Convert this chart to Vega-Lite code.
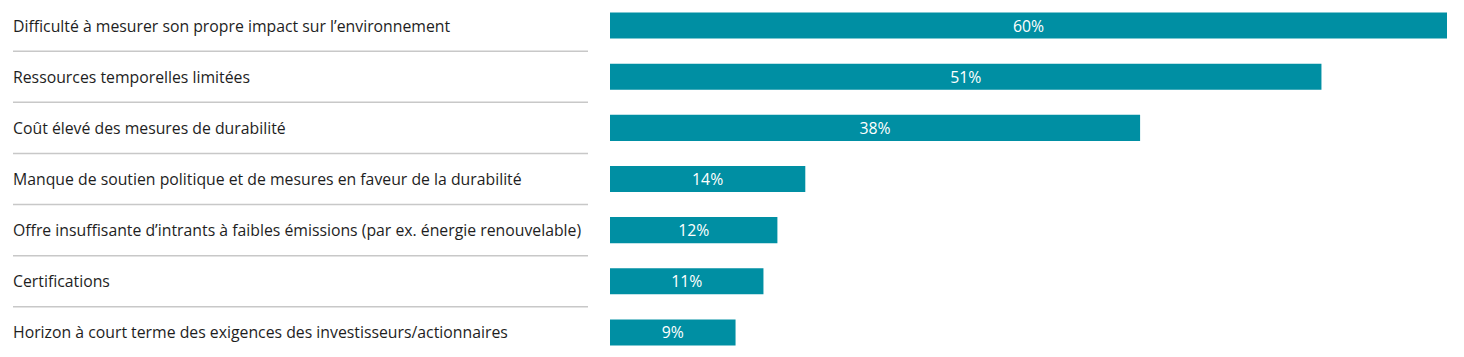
{
  "$schema": "https://vega.github.io/schema/vega-lite/v6.json",
  "padding": {"left": 12, "top": 0, "right": 0, "bottom": 0},
  "bounds": "flush",
  "config": {"view": {"stroke": null}, "font": "Open Sans", "concat": {"spacing": 22}},
  "data": {"values": [
    {"cause": "Difficulté à mesurer son propre impact sur l’environnement", "value": 0.60, "rank": 1},
    {"cause": "Ressources temporelles limitées", "value": 0.51, "rank": 2},
    {"cause": "Coût élevé des mesures de durabilité", "value": 0.38, "rank": 3},
    {"cause": "Manque de soutien politique et de mesures en faveur de la durabilité", "value": 0.14, "rank": 4},
    {"cause": "Offre insuffisante d’intrants à faibles émissions (par ex. énergie renouvelable)", "value": 0.12, "rank": 5},
    {"cause": "Certifications", "value": 0.11, "rank": 6},
    {"cause": "Horizon à court terme des exigences des investisseurs/actionnaires", "value": 0.09, "rank": 7}
  ]},
  "resolve": {"scale": {"x": "independent", "y": "independent"}},
  "hconcat": [
    {
      "width": 575,
      "height": 358,
      "layer": [
        {
          "transform": [{"filter": "datum.rank < 7"}],
          "mark": {"type": "rule", "color": "#c8c8c8", "strokeWidth": 1.5},
          "encoding": {
            "y": {"field": "cause", "type": "nominal", "sort": {"field": "rank"}, "bandPosition": 1, "axis": null,
                  "scale": {"domain": ["Difficulté à mesurer son propre impact sur l’environnement", "Ressources temporelles limitées", "Coût élevé des mesures de durabilité", "Manque de soutien politique et de mesures en faveur de la durabilité", "Offre insuffisante d’intrants à faibles émissions (par ex. énergie renouvelable)", "Certifications", "Horizon à court terme des exigences des investisseurs/actionnaires"], "paddingInner": 0, "paddingOuter": 0}},
            "x": {"datum": 0, "type": "quantitative", "scale": {"domain": [0, 1]}, "axis": null},
            "x2": {"datum": 1}
          }
        },
        {
          "mark": {"type": "text", "align": "left", "baseline": "middle", "fontSize": 15.8, "color": "#1e1e1e", "dy": 1},
          "encoding": {
            "y": {"field": "cause", "type": "nominal", "sort": {"field": "rank"}, "axis": null},
            "x": {"datum": 0, "type": "quantitative"},
            "text": {"field": "cause"}
          }
        }
      ]
    },
    {
      "width": 837,
      "height": 358,
      "layer": [
        {
          "mark": {"type": "bar", "color": "#008fa3"},
          "encoding": {
            "y": {"field": "cause", "type": "nominal", "sort": {"field": "rank"}, "axis": null,
                  "scale": {"paddingInner": 0.49, "paddingOuter": 0.245}},
            "x": {"field": "value", "type": "quantitative", "scale": {"domain": [0, 0.6]}, "axis": null}
          }
        },
        {
          "mark": {"type": "text", "align": "center", "baseline": "middle", "fontSize": 15.8, "color": "white", "dy": 1},
          "encoding": {
            "y": {"field": "cause", "type": "nominal", "sort": {"field": "rank"}, "axis": null},
            "x": {"field": "value", "type": "quantitative", "scale": {"domain": [0, 1.2]}, "axis": null},
            "text": {"field": "value", "type": "quantitative", "format": ".0%"}
          }
        }
      ],
      "resolve": {"scale": {"x": "independent"}}
    }
  ]
}
